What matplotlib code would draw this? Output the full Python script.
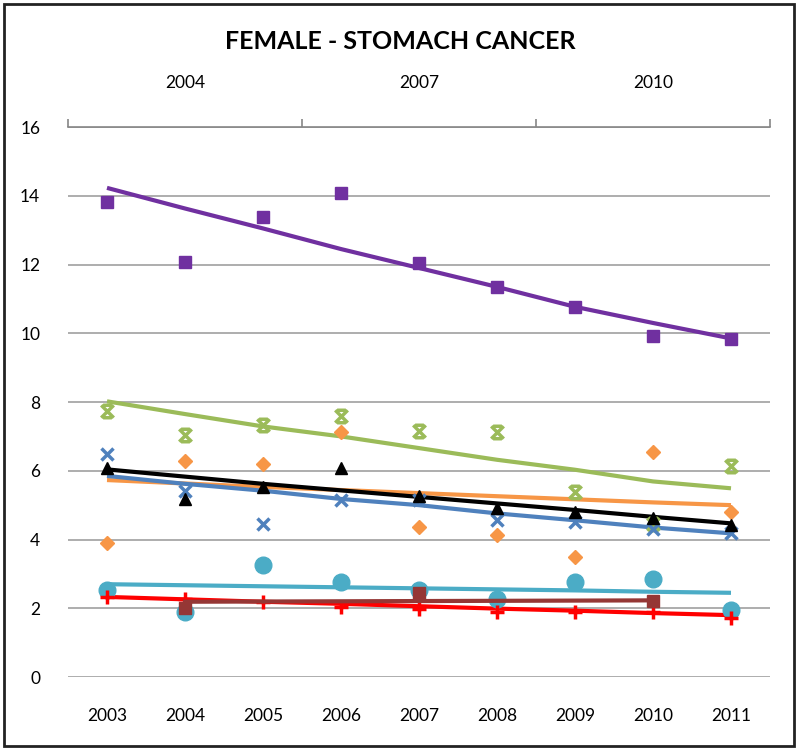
import matplotlib
matplotlib.use("Agg")
import matplotlib.pyplot as plt
from matplotlib.path import Path
from matplotlib.patches import Rectangle

years = ["2003", "2004", "2005", "2006", "2007", "2008", "2009", "2010", "2011"]
top_years = ["2004", "2007", "2010"]

purple = [13.82, 12.07, 13.38, 14.08, 12.04, 11.35, 10.76, 9.92, 9.83]
green = [7.75, 7.03, 7.34, 7.60, 7.16, 7.14, 5.37, 4.44, 6.14]
blue = [6.49, 5.41, 4.44, 5.15, 5.15, 4.57, 4.52, 4.32, 4.18]
black = [6.07, 5.18, 5.52, 6.09, 5.28, 4.91, 4.81, 4.62, 4.42]
orange = [3.90, 6.27, 6.19, 7.14, 4.37, 4.13, 3.48, 6.54, 4.79]
cyan = [2.53, 1.88, 3.25, 2.75, 2.53, 2.28, 2.77, 2.84, 1.94]
red = [2.33, 2.28, 2.19, 2.04, 1.99, 1.90, 1.88, 1.88, 1.73]
brown = [2.00, 2.43, 2.22]   # secondary axis: 2004, 2007, 2010

# trend lines
purple_tr = [14.23, 13.63, 13.05, 12.45, 11.90, 11.35, 10.77, 10.30, 9.85]
green_tr = [8.02, 7.65, 7.29, 7.00, 6.66, 6.32, 6.03, 5.69, 5.49]
black_tr = [6.04, 5.83, 5.62, 5.43, 5.24, 5.05, 4.86, 4.66, 4.47]
blue_tr = [5.85, 5.62, 5.42, 5.18, 5.00, 4.76, 4.56, 4.35, 4.18]
orange_tr = [5.73, 5.63, 5.53, 5.44, 5.35, 5.26, 5.17, 5.08, 5.00]
cyan_tr = [2.70, 2.67, 2.64, 2.61, 2.58, 2.55, 2.52, 2.48, 2.45]
red_tr = [2.33, 2.26, 2.19, 2.13, 2.06, 1.99, 1.93, 1.86, 1.80]
brown_tr = [2.19, 2.21, 2.23]

plt.rcParams["font.family"] = ["Lato", "DejaVu Sans"]

# Excel-like "star" marker: X with bars on top and bottom
star = Path([(-1, -1), (1, 1), (-1, 1), (1, -1), (-0.7, 1), (0.7, 1), (-0.7, -1), (0.7, -1)],
            [Path.MOVETO, Path.LINETO] * 4)

fig = plt.figure(figsize=(8, 7.49), dpi=100)
ax = fig.add_axes([0.085, 0.0961, 0.8775, 0.7343])
x = list(range(len(years)))

grid_c = "#A0A0A0"
ax.set_ylim(0, 16)
ax.set_xlim(-0.5, len(years) - 0.5)
ax.set_yticks(range(0, 17, 2))
ax.set_xticks(x)
ax.set_xticklabels(years)
ax.yaxis.grid(True, color=grid_c, lw=1.2)
ax.set_axisbelow(True)
for s in ["left", "right", "top", "bottom"]:
    ax.spines[s].set_visible(False)
ax.tick_params(axis="both", length=0, labelsize=12.5)
ax.tick_params(axis="x", pad=22)
ax.tick_params(axis="y", pad=20)

series = [
    (purple, purple_tr, "#7030A0", "s", 9, 1.0),
    (green, green_tr, "#9BBB59", star, 9, 2.5),
    (orange, orange_tr, "#F79646", "D", 7, 1.0),
    (blue, blue_tr, "#4F81BD", "x", 9, 2.5),
    (black, black_tr, "#000000", "^", 9, 1.0),
    (cyan, cyan_tr, "#4BACC6", "o", 12, 1.0),
    (red, red_tr, "#FF0000", "+", 10, 2.5),
]
for vals, tr, col, mk, ms, mew in series:
    ax.plot(x, tr, color=col, lw=3, zorder=3, solid_capstyle="butt")
    face = "none" if mk is star else col
    ax.plot(x, vals, ls="none", marker=mk, ms=ms, color=col, mfc=face, mew=mew, zorder=4)

# secondary category axis on top
ax2 = ax.twiny()
ax2.set_xlim(-0.5, len(top_years) - 0.5)
xt = list(range(len(top_years)))
ax2.plot(xt, brown_tr, color="#953735", lw=3, zorder=3)
ax2.plot(xt, brown, ls="none", marker="s", ms=9, color="#953735", zorder=4)
ax2.set_xticks([-0.5, 0.5, 1.5, 2.5])
ax2.set_xticklabels([])
ax2.set_xticks(xt, minor=True)
ax2.set_xticklabels(top_years, minor=True)
ax2.tick_params(axis="x", which="major", length=6, color="#868686", width=1.2, direction="out")
ax2.tick_params(axis="x", which="minor", length=0, pad=26, labelsize=12.5)
for s in ["left", "right", "bottom"]:
    ax2.spines[s].set_visible(False)
ax2.spines["top"].set_color("#868686")
ax2.spines["top"].set_linewidth(1.2)

fig.text(0.5, 0.944, "FEMALE - STOMACH CANCER", ha="center", va="center",
         fontsize=18, fontweight="bold")

fig.patches.append(Rectangle((0.005, 0.004), 0.988, 0.99, transform=fig.transFigure,
                             fill=False, edgecolor="#222222", lw=2))

fig.savefig("out.png", dpi=100)
